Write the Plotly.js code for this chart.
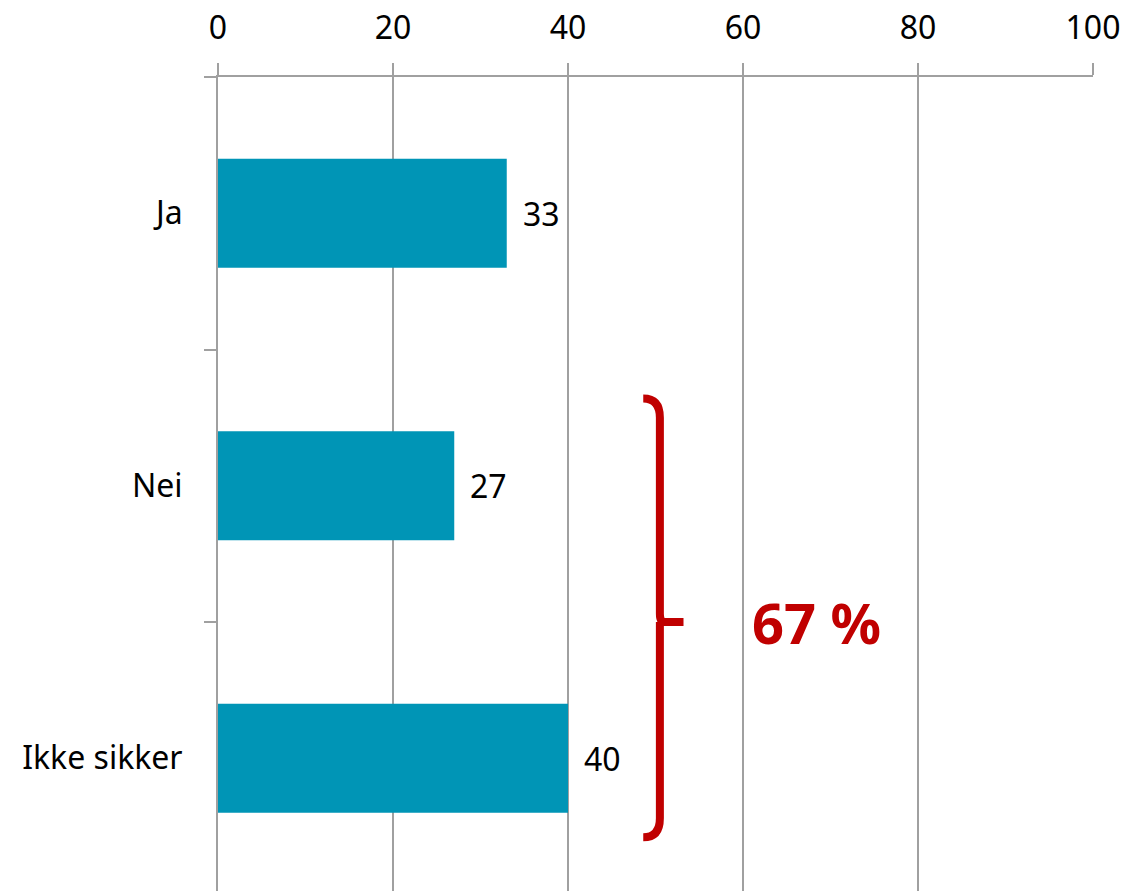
<!DOCTYPE html>
<html>
<head>
<meta charset="utf-8">
<script src="https://cdn.plot.ly/plotly-3.0.1.min.js"></script>
<style>html,body{margin:0;padding:0;background:#fff;}#chart{width:1130px;height:891px;}</style>
</head>
<body>
<div id="chart"></div>
<script>
const categories = ["Ja", "Nei", "Ikke sikker"];
const values = [33, 27, 40];
const xTicks = [0, 20, 40, 60, 80, 100];
const braceLabel = "67 %";

const FONT = "Noto Sans, Open Sans, sans-serif";
const GRAY = "#a0a0a0";
const RED = "#c00000";

const trace = {
  type: "bar",
  orientation: "h",
  y: categories,
  x: values,
  width: 0.4,
  marker: {color: "#0095b6"},
  hoverinfo: "skip"
};

const valueLabels = categories.map((c, i) => ({
  x: values[i], y: c, xref: "x", yref: "y",
  text: String(values[i]), showarrow: false,
  xanchor: "left", xshift: 14, yshift: 0,
  font: {family: FONT, size: 32, color: "#000"}
}));

const layout = {
  width: 1130, height: 891,
  margin: {l: 218, r: 37, t: 77, b: 0, pad: 0},
  paper_bgcolor: "#fff", plot_bgcolor: "#fff",
  showlegend: false,
  font: {family: FONT, size: 32, color: "#000"},
  xaxis: {
    side: "top", range: [0, 100], tickvals: xTicks, ticktext: xTicks.map(String),
    ticks: "outside", ticklen: 12, tickwidth: 2, tickcolor: GRAY,
    showline: true, linecolor: GRAY, linewidth: 2,
    showgrid: true, gridcolor: GRAY, gridwidth: 2,
    zeroline: false, ticklabelstandoff: 11,
    tickfont: {family: FONT, size: 32, color: "#000"},
    fixedrange: true
  },
  yaxis: {
    type: "category", categoryorder: "array", categoryarray: categories,
    range: [2.487, -0.5],
    ticks: "outside", tickson: "boundaries", ticklen: 12, tickwidth: 2, tickcolor: GRAY,
    showline: true, linecolor: GRAY, linewidth: 2,
    showgrid: false, zeroline: false, ticklabelstandoff: 27,
    tickfont: {family: FONT, size: 32, color: "#000"},
    fixedrange: true
  },
  shapes: [{
    type: "path", xref: "x", yref: "y",
    path: "M 48.6,0.68 Q 50.5,0.68 50.5,0.75 L 50.5,1.47 Q 50.5,1.5 51,1.5 L 53.2,1.5 M 50.5,1.5 L 50.5,2.22 Q 50.5,2.29 48.6,2.29",
    line: {color: RED, width: 8}
  }],
  annotations: valueLabels.concat([{
    x: 60.8, y: 1.5, xref: "x", yref: "y", text: "<b>" + braceLabel + "</b>",
    showarrow: false, xanchor: "left", yanchor: "middle",
    font: {family: FONT, size: 56, color: RED}
  }])
};

Plotly.newPlot("chart", [trace], layout, {displayModeBar: false, staticPlot: true});
</script>
</body>
</html>
